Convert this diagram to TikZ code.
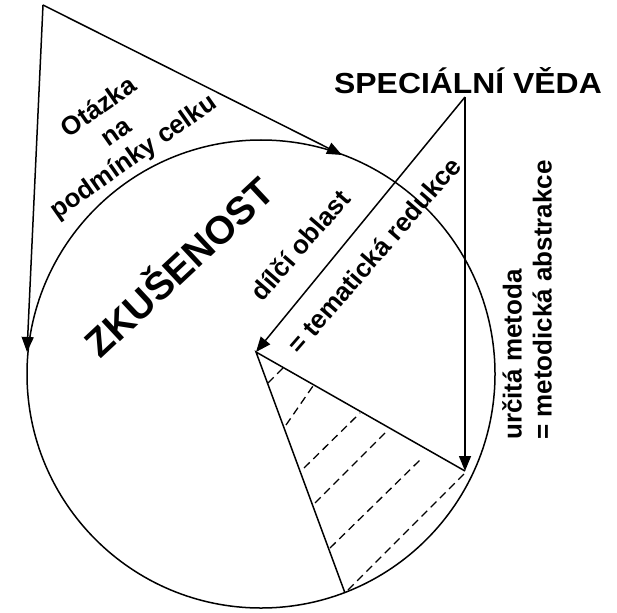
\documentclass[tikz,border=0pt]{standalone}
\usepackage{fontspec}
\usepackage{graphicx}
\setmainfont{Liberation Sans}
\usetikzlibrary{arrows.meta}
\begin{document}
\begin{tikzpicture}[x=1pt,y=-1pt,
  line/.style={line width=1.5pt},
  arr/.style={line width=1.5pt,-{Triangle[length=15pt,width=12pt]}},
  hatch/.style={line width=1.3pt,dash pattern=on 8pt off 5pt},
  lbl/.style={font=\bfseries\fontsize{26}{30}\selectfont,inner sep=0pt,align=center}]
\useasboundingbox (0,0) rectangle (617,612);
\coordinate (O) at (261,374);
\coordinate (A) at (43,5);
\coordinate (Pl) at (27,352);
\coordinate (Pt) at (342,155);
\coordinate (B) at (465,97);
\coordinate (Q) at (256,352);
\coordinate (R) at (465,471);
\coordinate (S) at (345,593);
\draw[line] (O) circle[radius=234pt];
\draw[arr] (A) -- (Pl);
\draw[arr] (A) -- (Pt);
\draw[arr] (B) -- (Q);
\draw[arr] (B) -- (R);
\draw[line] (R) -- (Q) -- (S);
\draw[hatch] (268,383) -- (283,368);
\draw[hatch] (286,425) -- (313,386);
\draw[hatch] (304,468) -- (360,413);
\draw[hatch] (315,503) -- (388,430);
\draw[hatch] (330,548) -- (420,460);
\draw[hatch] (348,590) -- (465,473);
\node[lbl,rotate=35] (q) at (117,133) {Otázka\\na\\podmínky celku};
\node[lbl,font=\bfseries\fontsize{39}{44}\selectfont,rotate=43] (z) at (177,265) {ZKUŠENOST};
\node[lbl,font=\bfseries\fontsize{29}{34}\selectfont] (sv) at (468,81) {\scalebox{1.1}[1]{SPECIÁLNÍ VĚDA}};
\node[lbl,rotate=49] (d) at (300,245) {dílčí oblast};
\node[lbl,rotate=49] (t) at (374,255) {= tematická redukce};
\node[lbl,rotate=90,anchor=west,align=left] (m) at (527,440) {určitá metoda\\= metodická abstrakce};
\end{tikzpicture}
\end{document}
